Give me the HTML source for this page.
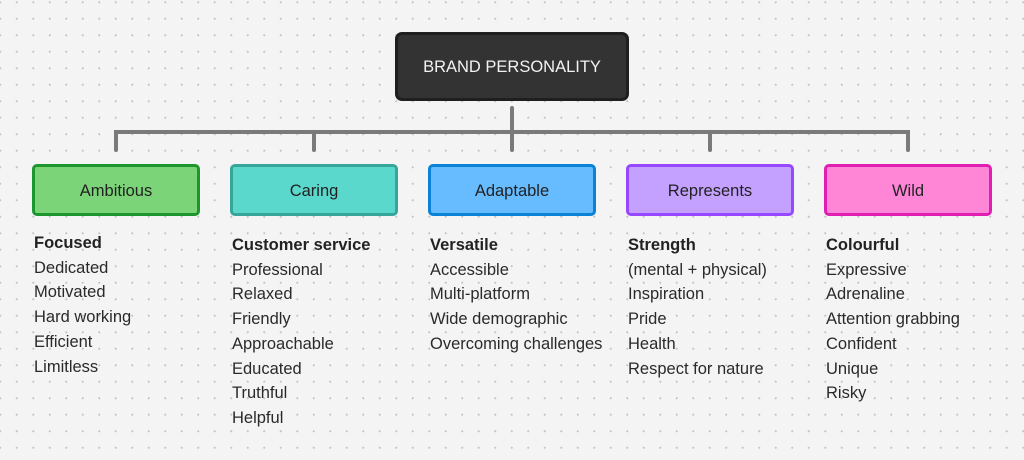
<!DOCTYPE html>
<html><head><style>
body{margin:0;width:1024px;height:460px;overflow:hidden;background-color:#f4f4f4;
background-image:radial-gradient(circle,#c4c4c4 0.9px,transparent 1.2px);background-size:16.5px 16.5px;background-position:-8px -6px;
font-family:"Liberation Sans",sans-serif;position:relative}
.b{position:absolute;box-sizing:border-box;border:3px solid;border-radius:5px;display:flex;align-items:center;justify-content:center;font-size:16.5px;color:#222;padding-top:2px}
.l{position:absolute;font-size:16.5px;color:#2a2a2a;line-height:24.7px}
.l b{font-weight:bold;color:#222}
</style></head><body>
<svg width="1024" height="460" style="position:absolute;left:0;top:0">
<g stroke="#7a7a7a" stroke-width="4" fill="none" stroke-linecap="round">
<path d="M116 150V132H908V150"/><path d="M512 108V150"/><path d="M314 132V150M710 132V150"/>
</g></svg>
<div class="b" style="left:395px;top:32px;width:234px;height:69px;background:#333;border-color:#1f1f1f;color:#f2f2f2;border-radius:7px">BRAND PERSONALITY</div>
<div class="b" style="left:32px;top:164px;width:168px;height:52px;background:#7bd477;border-color:#1e9630">Ambitious</div>
<div class="b" style="left:230px;top:164px;width:168px;height:52px;background:#5ad8cc;border-color:#36a69b">Caring</div>
<div class="b" style="left:428px;top:164px;width:168px;height:52px;background:#66bcff;border-color:#0a82d6">Adaptable</div>
<div class="b" style="left:626px;top:164px;width:168px;height:52px;background:#c4a1ff;border-color:#9747ff">Represents</div>
<div class="b" style="left:824px;top:164px;width:168px;height:52px;background:#ff86d7;border-color:#e01fb2">Wild</div>
<div class="l" style="left:34px;top:231px"><b>Focused</b><br>Dedicated<br>Motivated<br>Hard working<br>Efficient<br>Limitless</div>
<div class="l" style="left:232px;top:233px"><b>Customer service</b><br>Professional<br>Relaxed<br>Friendly<br>Approachable<br>Educated<br>Truthful<br>Helpful</div>
<div class="l" style="left:430px;top:233px"><b>Versatile</b><br>Accessible<br>Multi-platform<br>Wide demographic<br>Overcoming challenges</div>
<div class="l" style="left:628px;top:233px"><b>Strength</b><br>(mental + physical)<br>Inspiration<br>Pride<br>Health<br>Respect for nature</div>
<div class="l" style="left:826px;top:233px"><b>Colourful</b><br>Expressive<br>Adrenaline<br>Attention grabbing<br>Confident<br>Unique<br>Risky</div>
</body></html>
